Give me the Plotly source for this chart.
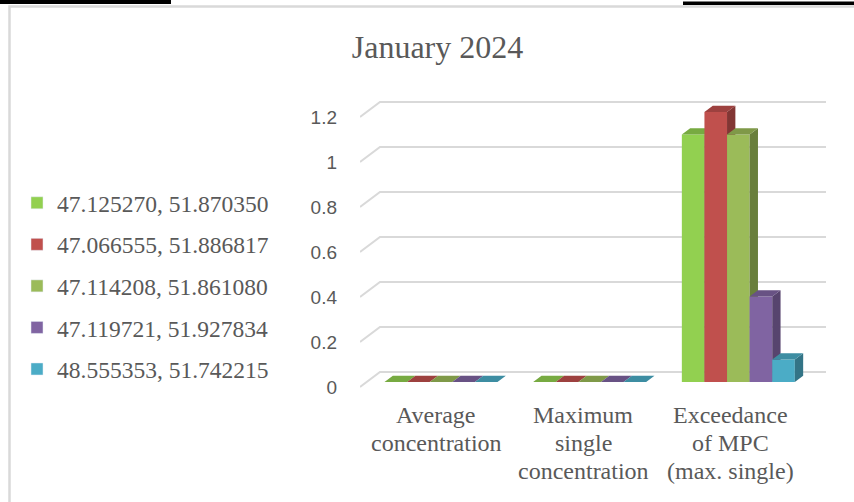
import plotly.graph_objects as go

# ---- data -------------------------------------------------------------
title_text = "January 2024"
category_labels = [
    "Average<br>concentration",
    "Maximum<br>single<br>concentration",
    "Exceedance<br>of MPC<br>(max. single)",
]
series_names = [
    "47.125270, 51.870350",
    "47.066555, 51.886817",
    "47.114208, 51.861080",
    "47.119721, 51.927834",
    "48.555353, 51.742215",
]
values_pt1 = [0, 0, 1.1]
values_pt2 = [0, 0, 1.2]
values_pt3 = [0, 0, 1.1]
values_pt4 = [0, 0, 0.38]
values_pt5 = [0, 0, 0.1]
series_values = [values_pt1, values_pt2, values_pt3, values_pt4, values_pt5]
y_tick_vals = [0, 0.2, 0.4, 0.6, 0.8, 1, 1.2]
y_tick_text = ["0", "0.2", "0.4", "0.6", "0.8", "1", "1.2"]

# ---- styling ----------------------------------------------------------
series_colors = ["#92D050", "#C0504D", "#9BBB59", "#8064A2", "#4BACC6"]
text_grey = "#595959"
grid_grey = "#d9d9d9"
serif = "Liberation Serif"

FIG_W, FIG_H = 854, 502
M_L, M_R, M_T, M_B = 360, 28, 99, 110
plot_w = FIG_W - M_L - M_R
plot_h = FIG_H - M_T - M_B

n_cat = len(category_labels)
n_ser = len(series_names)
DEPTH_PX = (20.0, 15.0)          # floor depth as drawn on screen (right, up)
px_x = (plot_w - DEPTH_PX[0]) / n_cat
px_y = 225.0
zero_px_above_bottom = 5.0
x_range = [0, plot_w / px_x]
y_lo = -zero_px_above_bottom / px_y
y_range = [y_lo, y_lo + plot_h / px_y]

dxw = DEPTH_PX[0] / px_x         # full wall depth in data units
dyw = DEPTH_PX[1] / px_y

group_frac = 0.76
bar_w = group_frac / n_ser
gap = (1 - group_frac) / 2
f_front, f_back = 1 / 3, 0.75    # bar front/back depth as fraction of floor depth


def shade(hex_color, k):
    h = hex_color.lstrip("#")
    r, g, b = (int(h[i:i + 2], 16) for i in (0, 2, 4))
    return "rgb({},{},{})".format(int(r * k), int(g * k), int(b * k))


def px_to_paper(px, py):
    return (px - M_L) / plot_w, (FIG_H - M_B - py) / plot_h


fig = go.Figure()

# back-wall gridlines with the short diagonal on the side wall
gx, gy = [], []
for v in y_tick_vals:
    gx += [0, dxw, x_range[1], None]
    gy += [v, v + dyw, v + dyw, None]
fig.add_trace(go.Scatter(x=gx, y=gy, mode="lines", hoverinfo="skip",
                         line=dict(color=grid_grey, width=2), showlegend=False))

# 3-D columns: front, right side and top faces, painted left to right
ddx = (f_back - f_front) * dxw
ddy = (f_back - f_front) * dyw
for i, (vals, col) in enumerate(zip(series_values, series_colors)):
    fx, fy, sx, sy, tx, ty = [], [], [], [], [], []
    for j, v in enumerate(vals):
        x0 = j + gap + i * bar_w + f_front * dxw
        x1 = x0 + bar_w
        y0 = f_front * dyw
        y1 = y0 + v
        if v > 0:
            fx += [x0, x1, x1, x0, x0, None]
            fy += [y0, y0, y1, y1, y0, None]
            sx += [x1, x1 + ddx, x1 + ddx, x1, x1, None]
            sy += [y0, y0 + ddy, y1 + ddy, y1, y0, None]
        tx += [x0, x1, x1 + ddx, x0 + ddx, x0, None]
        ty += [y1, y1, y1 + ddy, y1 + ddy, y1, None]
    for xs, ys, c in ((fx, fy, col), (sx, sy, shade(col, 0.68)), (tx, ty, shade(col, 0.82))):
        if xs:
            fig.add_trace(go.Scatter(x=xs, y=ys, mode="lines", fill="toself",
                                     fillcolor=c, line=dict(width=0, color=c),
                                     hoverinfo="skip", showlegend=False))

# legend entries
for name, col in zip(series_names, series_colors):
    fig.add_trace(go.Bar(x=[None], y=[None], name=name, marker_color=col,
                         legendgroup=name))

# category labels, one annotation per wrapped line (tight line spacing)
label_nudge_px = [2, 0, -1]
first_line_px = 415
line_step_px = 28
annotations = []
for j, (lab, d) in enumerate(zip(category_labels, label_nudge_px)):
    for k, line in enumerate(lab.split("<br>")):
        annotations.append(dict(
            x=j + 0.5 + d / px_x, xref="x",
            y=px_to_paper(0, first_line_px + k * line_step_px)[1], yref="paper",
            text=line, showarrow=False, xanchor="center", yanchor="middle",
            font=dict(family=serif, size=24, color=text_grey)))

shapes = []
for (ax, ay, bx, by) in [(0, 0, 171, 4), (683, 1.5, 854, 5)]:
    p0 = px_to_paper(ax, ay)
    p1 = px_to_paper(bx, by)
    shapes.append(dict(type="rect", xref="paper", yref="paper", x0=p0[0], y0=p0[1],
                       x1=p1[0], y1=p1[1], fillcolor="black", line=dict(width=0)))
b0 = px_to_paper(9.5, 6.5)
b1 = px_to_paper(870, 520)
shapes.append(dict(type="rect", xref="paper", yref="paper", x0=b0[0], y0=b0[1],
                   x1=b1[0], y1=b1[1], line=dict(color=grid_grey, width=2.5)))

fig.update_layout(
    width=FIG_W, height=FIG_H,
    margin=dict(l=M_L, r=M_R, t=M_T, b=M_B, pad=0),
    paper_bgcolor="white", plot_bgcolor="rgba(0,0,0,0)",
    barmode="overlay",
    shapes=shapes,
    annotations=annotations,
    title=dict(text=title_text, xref="container", yref="container",
               x=437.5 / FIG_W, y=1 - 47 / FIG_H, xanchor="center", yanchor="middle",
               font=dict(family=serif, size=32, color=text_grey)),
    xaxis=dict(range=x_range, showgrid=False, zeroline=False, showline=False,
               showticklabels=False, ticks="", fixedrange=True),
    yaxis=dict(range=y_range, showgrid=False, zeroline=False, showline=False,
               tickmode="array", tickvals=y_tick_vals, ticktext=y_tick_text,
               ticks="", ticklabelstandoff=22, fixedrange=True,
               tickfont=dict(family="Liberation Sans", size=19, color=text_grey)),
    legend=dict(xref="container", yref="container", x=17 / FIG_W, y=1 - 286 / FIG_H,
                xanchor="left", yanchor="middle", tracegroupgap=8,
                font=dict(family=serif, size=23.5, color=text_grey),
                bgcolor="rgba(0,0,0,0)", itemclick=False, itemdoubleclick=False),
    showlegend=True,
)

fig.write_html("out.html")
